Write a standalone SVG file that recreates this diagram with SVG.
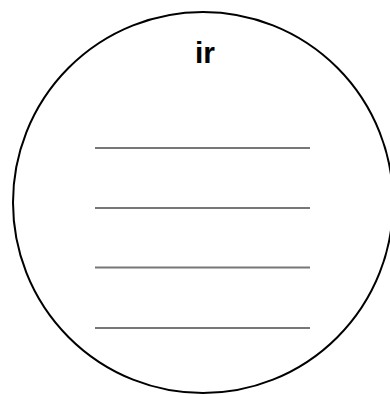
<svg xmlns="http://www.w3.org/2000/svg" width="390" height="394" viewBox="0 0 390 394">
<style>
.ring{fill:#fff;stroke:#000;stroke-width:2}
.ln{stroke:#777;stroke-width:2}
.t{font-family:"Liberation Sans",Arial,sans-serif;font-weight:bold;font-size:30px;fill:#000;text-anchor:middle}
</style>
<rect width="390" height="394" fill="#fff"/>
<g id="node-ir">
<ellipse class="ring" cx="203" cy="202.5" rx="190" ry="190.5"/>
<text class="t" x="205" y="63">ir</text>
<line class="ln" x1="95" y1="148" x2="310" y2="148"/>
<line class="ln" x1="95" y1="208" x2="310" y2="208"/>
<line class="ln" x1="95" y1="267.5" x2="310" y2="267.5"/>
<line class="ln" x1="95" y1="328" x2="310" y2="328"/>
</g>
<g id="connectors"></g>
</svg>
